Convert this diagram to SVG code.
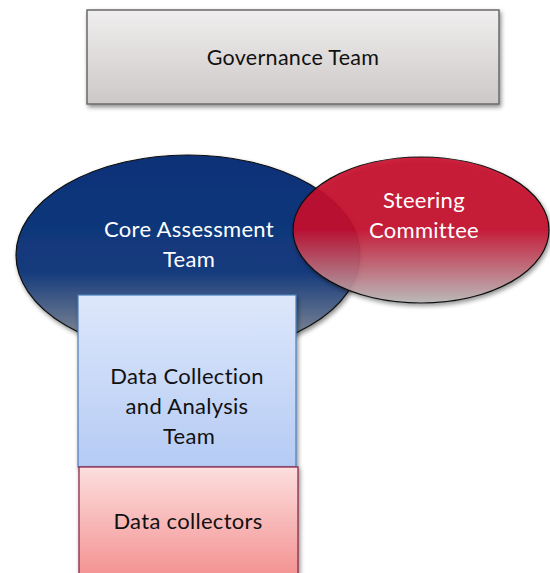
<svg xmlns="http://www.w3.org/2000/svg" width="550" height="573" viewBox="0 0 550 573">
<style>
text{font-family:Lato,"Liberation Sans",sans-serif;text-anchor:middle;letter-spacing:0.3px}
.dark{fill:#111;font-size:22px}
.light{fill:#fff;font-size:22px}
</style>
<defs>
<filter id="sh" x="-10%" y="-10%" width="125%" height="130%">
<feDropShadow dx="1.5" dy="2.5" stdDeviation="2" flood-color="#000" flood-opacity="0.45"/>
</filter>
<linearGradient id="gGov" x1="0" y1="0" x2="0" y2="1">
<stop offset="0" stop-color="#f0eeee"/>
<stop offset="1" stop-color="#cdc8c8"/>
</linearGradient>
<linearGradient id="gBlue" x1="0" y1="0" x2="0" y2="1">
<stop offset="0" stop-color="#0b3178"/>
<stop offset="0.58" stop-color="#143a7c"/>
<stop offset="1" stop-color="#9a9a9a"/>
</linearGradient>
<linearGradient id="gRed" x1="0" y1="0" x2="0" y2="1">
<stop offset="0" stop-color="#c80a2c"/>
<stop offset="0.5" stop-color="#c5102f"/>
<stop offset="1" stop-color="#b9b9b9"/>
</linearGradient>
<linearGradient id="gLB" x1="0" y1="0" x2="0" y2="1">
<stop offset="0" stop-color="#dde7fb"/>
<stop offset="1" stop-color="#b5cbf4"/>
</linearGradient>
<linearGradient id="gLR" x1="0" y1="0" x2="0" y2="1">
<stop offset="0" stop-color="#fcdede"/>
<stop offset="1" stop-color="#f49090"/>
</linearGradient>
</defs>
<g id="connectors"/>
<g id="governance">
<rect x="87" y="10" width="412" height="94" fill="url(#gGov)" stroke="#6a6a6a" stroke-width="1.5" filter="url(#sh)"/>
<text class="dark" x="293" y="65" style="font-size:21.5px">Governance Team</text>
</g>
<g id="core">
<ellipse cx="188" cy="255" rx="172" ry="100" fill="url(#gBlue)" stroke="#111" stroke-width="1.2" filter="url(#sh)"/>
<text class="light" x="189" y="237">Core Assessment</text>
<text class="light" x="189" y="267">Team</text>
</g>
<g id="steering">
<ellipse cx="421" cy="230" rx="128" ry="73" fill="url(#gRed)" fill-opacity="0.9" stroke="#111" stroke-width="1.2" filter="url(#sh)"/>
<text class="light" x="424" y="208">Steering</text>
<text class="light" x="424" y="238">Committee</text>
</g>
<g id="datateam">
<rect x="78" y="295" width="218" height="172" fill="url(#gLB)" stroke="#4a7ebb" stroke-width="1.2" filter="url(#sh)"/>
<text class="dark" x="187" y="384">Data Collection</text>
<text class="dark" x="187" y="414">and Analysis</text>
<text class="dark" x="189" y="444">Team</text>
</g>
<g id="collectors">
<rect x="79" y="467" width="219" height="112" fill="url(#gLR)" stroke="#8c1c3c" stroke-width="1.2" filter="url(#sh)"/>
<text class="dark" x="188" y="529">Data collectors</text>
</g>
</svg>
